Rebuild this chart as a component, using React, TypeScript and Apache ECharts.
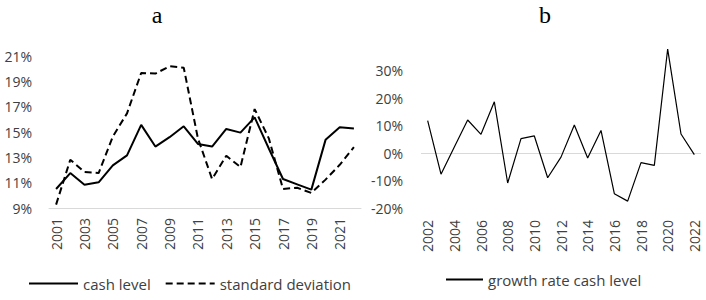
import React, { useEffect, useRef } from "react";
import * as echarts from "echarts";

const yearsA = ["2001","2002","2003","2004","2005","2006","2007","2008","2009","2010","2011","2012","2013","2014","2015","2016","2017","2018","2019","2020","2021","2022"];
const cashLevel = [10.5,11.76,10.84,11.03,12.36,13.15,15.56,13.85,14.59,15.45,14.06,13.85,15.24,14.95,16.16,13.7,11.29,10.87,10.45,14.38,15.37,15.27];
const stdDev = [9.27,12.81,11.84,11.76,14.64,16.47,19.66,19.61,20.19,20.08,14.5,11.29,13.12,12.23,16.81,14.5,10.5,10.6,10.19,11.24,12.41,13.8];
const yearsB = ["2002","2003","2004","2005","2006","2007","2008","2009","2010","2011","2012","2013","2014","2015","2016","2017","2018","2019","2020","2021","2022"];
const growthRate = [11.8,-7.7,2.2,12.0,6.8,18.6,-10.9,5.2,6.2,-9.0,-1.5,10.2,-1.8,8.2,-14.8,-17.5,-3.5,-4.5,37.8,6.9,-0.6];

const FONT = "Open Sans";
const TXT = "#404040";

export default function App() {
  const ref = useRef<HTMLDivElement>(null);
  useEffect(() => {
    if (!ref.current) return;
    const chart = echarts.init(ref.current, undefined, { renderer: "svg" });
    const xLabel = {
      rotate: 90,
      interval: 1,
      fontFamily: FONT,
      fontSize: 14,
      color: TXT,
      margin: 10,
    };
    const titleStyle = { fontFamily: "Liberation Serif", fontSize: 24, fontWeight: "normal", color: "#000" };
    chart.setOption({
      animation: false,
      backgroundColor: "#ffffff",
      title: [
        { text: "a", left: 157, top: 3, textAlign: "center", padding: 0, textStyle: titleStyle },
        { text: "b", left: 545, top: 3, textAlign: "center", padding: 0, textStyle: titleStyle },
      ],
      legend: [
        {
          left: 23, top: 271, itemWidth: 49, itemHeight: 14, itemGap: 14,
          itemStyle: { opacity: 0 },
          data: ["cash level", "standard deviation"],
          textStyle: { fontFamily: FONT, fontSize: 15, color: TXT },
        },
        {
          left: 440, top: 267, itemWidth: 37, itemHeight: 14,
          itemStyle: { opacity: 0 },
          data: ["growth rate cash level"],
          textStyle: { fontFamily: FONT, fontSize: 15, color: TXT },
        },
      ],
      grid: [
        { left: 49, top: 56, width: 312, height: 152 },
        { left: 421, top: 43, width: 280, height: 165 },
      ],
      xAxis: [
        {
          type: "category", gridIndex: 0, data: yearsA, boundaryGap: true,
          axisLine: { lineStyle: { color: "#d9d9d9", width: 1 } },
          axisTick: { show: false },
          axisLabel: xLabel,
        },
        {
          type: "category", gridIndex: 1, data: yearsB, boundaryGap: true,
          axisLine: { show: false, onZero: false },
          axisTick: { show: false },
          axisLabel: { ...xLabel, margin: 12 },
        },
      ],
      yAxis: [
        {
          type: "value", gridIndex: 0, min: 9, max: 21, interval: 2,
          axisLine: { show: false }, axisTick: { show: false }, splitLine: { show: false },
          axisLabel: { formatter: "{value}%", fontFamily: FONT, fontSize: 14, color: TXT, margin: 17 },
        },
        {
          type: "value", gridIndex: 1, min: -20, max: 40, interval: 10,
          axisLine: { show: false }, axisTick: { show: false }, splitLine: { show: false },
          axisLabel: {
            formatter: (v: number) => (v > 30 ? "" : v + "%"),
            fontFamily: FONT, fontSize: 14, color: TXT, margin: 18,
          },
        },
      ],
      series: [
        {
          name: "cash level", type: "line", xAxisIndex: 0, yAxisIndex: 0, data: cashLevel,
          symbol: "none", lineStyle: { color: "#000", width: 2 }, itemStyle: { color: "#000" },
        },
        {
          name: "standard deviation", type: "line", xAxisIndex: 0, yAxisIndex: 0, data: stdDev,
          symbol: "none", lineStyle: { color: "#000", width: 2, type: [7, 4] }, itemStyle: { color: "#000" },
        },
        {
          name: "growth rate cash level", type: "line", xAxisIndex: 1, yAxisIndex: 1, data: growthRate,
          symbol: "none", lineStyle: { color: "#000", width: 1.2 }, itemStyle: { color: "#000" },
          z: 3,
          markLine: {
            silent: true, symbol: ["none", "none"], label: { show: false },
            lineStyle: { color: "#d9d9d9", width: 1, type: "solid" },
            data: [{ yAxis: 0 }],
            z: 1,
          },
        },
      ],
    });
    return () => chart.dispose();
  }, []);
  return <div ref={ref} style={{ width: 706, height: 300, position: "absolute", left: 0, top: 0 }} />;
}
